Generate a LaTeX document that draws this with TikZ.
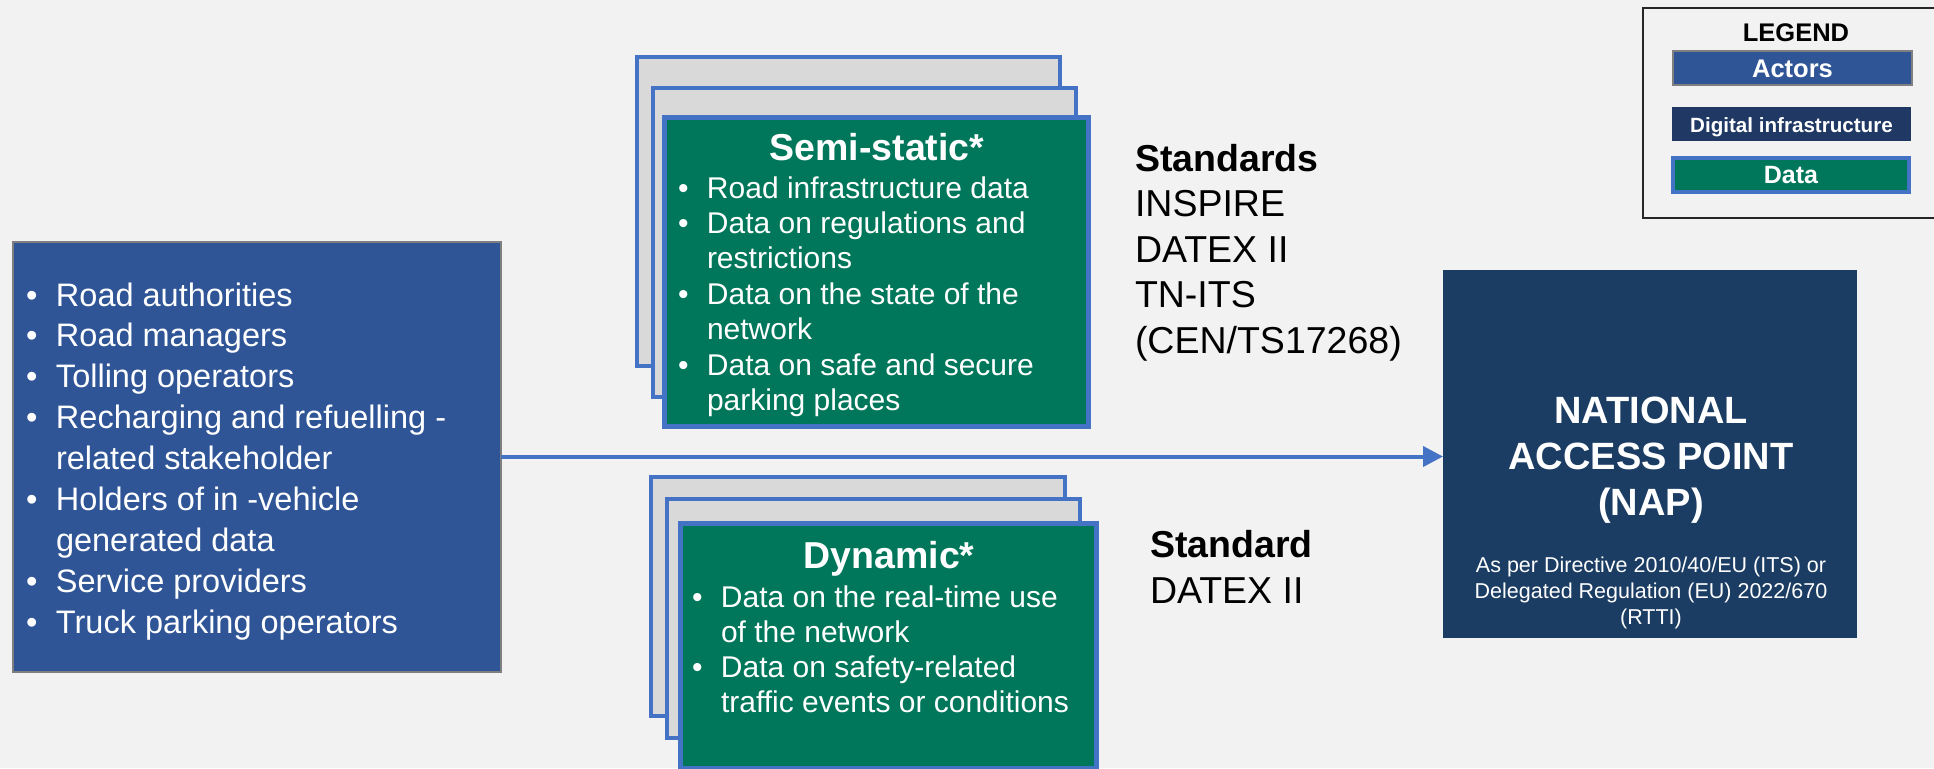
\documentclass[tikz,border=0pt]{standalone}
\usepackage{fontspec}
\setmainfont{Liberation Sans}
\usetikzlibrary{fit,arrows.meta}

\definecolor{bgc}{HTML}{F2F2F2}
\definecolor{actorblue}{HTML}{2F5597}
\definecolor{napnavy}{HTML}{1B3C63}
\definecolor{legnavy}{HTML}{1F3864}
\definecolor{datagreen}{HTML}{00775A}
\definecolor{edgeblue}{HTML}{4472C4}
\definecolor{papergray}{HTML}{D9D9D9}
\definecolor{edgegray}{HTML}{7F7F7F}
\definecolor{inkblack}{HTML}{262626}

% bullet line and continuation line with a hanging indent
\newcommand\bitem[2]{\makebox[#1][l]{\textbullet}#2}
\newcommand\citem[2]{\hspace*{#1}#2}

\begin{document}
\begin{tikzpicture}[x=0.5pt,y=-0.5pt,
  box/.style={inner sep=0pt, outer sep=0pt},
  actorbox/.style={box, fill=actorblue, draw=edgegray, line width=1pt},
  paper/.style={box, fill=papergray, draw=edgeblue, line width=2.25pt},
  databox/.style={box, fill=datagreen, draw=edgeblue, line width=2.5pt},
  napbox/.style={box, fill=napnavy},
  lbl/.style={inner sep=0pt, outer sep=0pt, text=white},
  darklbl/.style={inner sep=0pt, outer sep=0pt, text=black},
  flow/.style={draw=edgeblue, line width=2pt, -{Triangle[length=10pt,width=10pt]}}]

% page
\fill[bgc] (0,0) rectangle (1934,768);
\useasboundingbox (0,0) rectangle (1934,768);

% actors
\node[actorbox, fit={(12.5,241.5) (500.5,671.5)}] (actors) {};
\node[lbl, anchor=base west, font=\fontsize{16.25}{20.45}\selectfont] (actorlist) at (26,306) {%
  \begin{tabular}[t]{@{}l@{}}
  \bitem{15pt}{Road authorities}\\
  \bitem{15pt}{Road managers}\\
  \bitem{15pt}{Tolling operators}\\
  \bitem{15pt}{Recharging and refuelling -}\\
  \citem{15pt}{related stakeholder}\\
  \bitem{15pt}{Holders of in -vehicle}\\
  \citem{15pt}{generated data}\\
  \bitem{15pt}{Service providers}\\
  \bitem{15pt}{Truck parking operators}
  \end{tabular}};

% semi-static data stack
\node[paper, fit={(637,57) (1060,366)}] (ssback) {};
\node[paper, fit={(653,88) (1076,397)}] (ssmid) {};
\node[databox, fit={(664,117) (1088,426)}] (ssfront) {};
\node[lbl, anchor=base, font=\fontsize{18.75}{22}\selectfont\bfseries] (sstitle) at (877,160) {Semi-static*};
\node[lbl, anchor=base west, font=\fontsize{15}{17.7}\selectfont] (sslist) at (678,198) {%
  \begin{tabular}[t]{@{}l@{}}
  \bitem{14.5pt}{Road infrastructure data}\\
  \bitem{14.5pt}{Data on regulations and}\\
  \citem{14.5pt}{restrictions}\\
  \bitem{14.5pt}{Data on the state of the}\\
  \citem{14.5pt}{network}\\
  \bitem{14.5pt}{Data on safe and secure}\\
  \citem{14.5pt}{parking places}
  \end{tabular}};

% dynamic data stack
\node[paper, fit={(651,477) (1065,716)}] (dyback) {};
\node[paper, fit={(667,499) (1080,738)}] (dymid) {};
\node[databox, fit={(680,523) (1096,768)}] (dyfront) {};
\node[lbl, anchor=base, font=\fontsize{18.75}{22}\selectfont\bfseries] (dytitle) at (889,568) {Dynamic*};
\node[lbl, anchor=base west, font=\fontsize{15}{17.65}\selectfont] (dylist) at (692,607) {%
  \begin{tabular}[t]{@{}l@{}}
  \bitem{14.5pt}{Data on the real-time use}\\
  \citem{14.5pt}{of the network}\\
  \bitem{14.5pt}{Data on safety-related}\\
  \citem{14.5pt}{traffic events or conditions}
  \end{tabular}};

% standards
\node[darklbl, anchor=base west, font=\fontsize{18.75}{22.75}\selectfont] (stdsemi) at (1135,171) {%
  \begin{tabular}[t]{@{}l@{}}
  \textbf{Standards}\\
  INSPIRE\\
  DATEX II\\
  TN-ITS\\
  (CEN/TS17268)
  \end{tabular}};
\node[darklbl, anchor=base west, font=\fontsize{18.75}{23}\selectfont] (stddyn) at (1150,557) {%
  \begin{tabular}[t]{@{}l@{}}
  \textbf{Standard}\\
  DATEX II
  \end{tabular}};

% national access point
\node[napbox, fit={(1443,270) (1857,638)}] (nap) {};
\node[lbl, anchor=base, font=\fontsize{19}{23}\selectfont\bfseries] (naptitle) at (1651,423) {%
  \begin{tabular}[t]{@{}c@{}}
  NATIONAL\\
  ACCESS POINT\\
  (NAP)
  \end{tabular}};
\node[lbl, anchor=base, font=\fontsize{10.75}{13}\selectfont] (napnote) at (1651,572) {%
  \begin{tabular}[t]{@{}c@{}}
  As per Directive 2010/40/EU (ITS) or\\
  Delegated Regulation (EU) 2022/670\\
  (RTTI)
  \end{tabular}};

% flow of data to the access point
\draw[flow] (actors.east) -- (actors.east -| nap.west);

% legend
\node[box, draw=inkblack, line width=1.25pt, fit={(1643,8) (1950,218)}] (legend) {};
\node[darklbl, anchor=base, font=\fontsize{12.75}{15}\selectfont\bfseries] (legtitle) at (1796,41) {LEGEND};
\node[box, fill=actorblue, draw=edgegray, line width=1pt, fit={(1673,51) (1912,85)}] (legactors) {};
\node[lbl, anchor=base, font=\fontsize{12.75}{15}\selectfont\bfseries] (legactorstxt) at (legactors.center |- 0,77) {Actors};
\node[box, fill=legnavy, fit={(1672,107) (1911,141)}] (leginfra) {};
\node[lbl, anchor=base, font=\fontsize{10.3}{12}\selectfont\bfseries] (leginfratxt) at (leginfra.center |- 0,132) {Digital infrastructure};
\node[box, fill=datagreen, draw=edgeblue, line width=2pt, fit={(1673,158) (1909,192)}] (legdata) {};
\node[lbl, anchor=base, font=\fontsize{12.5}{15}\selectfont\bfseries] (legdatatxt) at (legdata.center |- 0,183) {Data};

\end{tikzpicture}
\end{document}
